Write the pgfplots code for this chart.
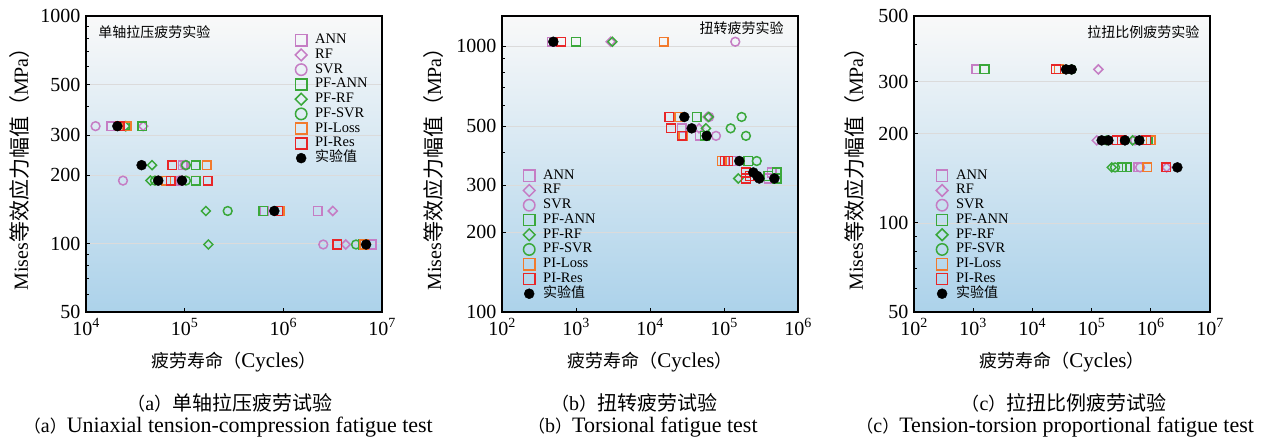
\documentclass[border=0pt]{standalone}
\usepackage{pgfplots}
\pgfplotsset{compat=1.18}
\usepackage{fontspec}
\setmainfont{Liberation Serif}
\newfontfamily\cjk{Noto Sans CJK SC}
\definecolor{cANN}{RGB}{197,125,196}
\definecolor{cPF}{RGB}{58,168,58}
\definecolor{cLoss}{RGB}{242,122,44}
\definecolor{cRes}{RGB}{232,38,40}
\definecolor{bgTop}{RGB}{249,249,249}
\definecolor{bgBot}{RGB}{172,210,234}
\newcommand{\fs}[1]{\fontsize{#1}{#1}\selectfont}
% caption helpers: full-width brackets set in the CJK face
\newcommand{\zhcap}[2]{{\cjk\fs{18}（}{\fs{20}#1}{\cjk\fs{18}）}{\cjk\fs{20}#2}}
\newcommand{\encap}[2]{{\cjk\fs{17}（}{\fs{20}#1}{\cjk\fs{17}）}{\fs{22}#2}}

\pgfplotsset{
  sq/.style={only marks, mark=square, mark size=4.3pt, mark options={mark size=4.3pt, line width=1.5pt, fill=none, solid}},
  dm/.style={only marks, mark=square, mark size=3.2pt, mark options={mark size=3.2pt, rotate=45, line width=1.5pt, fill=none, solid}},
  ci/.style={only marks, mark=o, mark size=4.4pt, mark options={mark size=4.4pt, line width=1.5pt, fill=none, solid}},
  ann/.style={sq, color=cANN},
  rf/.style={dm, color=cANN},
  svr/.style={ci, color=cANN},
  pfann/.style={sq, color=cPF},
  pfrf/.style={dm, color=cPF},
  pfsvr/.style={ci, color=cPF},
  piloss/.style={sq, color=cLoss},
  pires/.style={sq, color=cRes},
  expv/.style={only marks, mark=*, mark size=5pt, mark options={mark size=5pt}, color=black,
    legend image post style={every mark/.append style={scale=0.77}}},
  fatigue panel/.style={
    scale only axis, width=296pt, height=296pt,
    axis background/.style={top color=bgTop, bottom color=bgBot},
    axis line style={line width=1.2pt},
    tick align=inside, xtick pos=bottom, ytick pos=left,
    major tick length=4pt, minor tick length=2.5pt,
    tick style={line width=0.8pt, black},
    xminorticks=false,
    ymajorgrids, major grid style={line width=0.6pt, gray!28},
    ticklabel style={font=\fs{20}},
    xticklabel style={yshift=-3pt},
    yticklabel style={xshift=-2pt},
    clip=false,
    legend cell align=left,
    legend image code/.code={%
      \pgfpathrectangle{\pgfpoint{0pt}{-6pt}}{\pgfpoint{20pt}{12pt}}%
      \pgfusepath{use as bounding box}%
      \draw[every mark/.append style={scale=1.3}, ##1] plot coordinates {(6pt,0pt)};},
    legend style={draw=none, fill=none, inner sep=0pt, row sep=1.75pt, font=\fs{14.5},
      nodes={inner sep=0pt, text height=10pt, text depth=3pt}, anchor=north west},
    xlabel={{\cjk\fs{18}疲劳寿命（}{\fs{21}Cycles}{\cjk\fs{18}）}},
    xlabel style={at={(axis description cs:0.5,-0.169)}, anchor=center},
    ylabel={{\fs{20}Mises}{\cjk\fs{21}等效应力幅值（}{\fs{20}MPa}{\cjk\fs{21}）}},
  },
}

\begin{document}
\begin{tikzpicture}
\useasboundingbox (0,0) rectangle (1269pt,442pt);

% ---------------- (a) uniaxial tension-compression ----------------
\begin{loglogaxis}[fatigue panel, at={(86pt,130pt)}, anchor=south west,
  xmin=1e4, xmax=1e7, ymin=50, ymax=1000,
  xtick={1e4,1e5,1e6,1e7},
  xticklabels={10\textsuperscript{4},10\textsuperscript{5},10\textsuperscript{6},10\textsuperscript{7}},
  ytick={50,100,200,300,500,1000}, yticklabels={50,100,200,300,500,1000},
  minor ytick={60,70,80,90,400,600,700,800,900},
  ylabel style={at={(axis description cs:-0.223,0.5)}, anchor=center},
  legend style={at={(axis description cs:0.706,0.941)}},
]
\addplot[ann] coordinates {(1.8e4,328) (9.6e4,221) (8.7e4,189) (6.4e5,139) (2.23e6,139) (7.9e6,99)};
\addplot[rf] coordinates {(3.8e4,328) (1.02e5,221) (9.0e4,189) (3.17e6,139) (4.29e6,99)};
\addplot[svr] coordinates {(1.25e4,328) (1.0e5,221) (2.37e4,189) (8.8e4,189) (2.54e6,99)};
\addplot[pfann] coordinates {(3.73e4,328) (1.30e5,221) (1.30e5,189) (6.27e5,139) (6.45e6,99)};
\addplot[pfrf] coordinates {(2.5e4,328) (4.67e4,221) (4.5e4,189) (1.64e5,139) (1.74e5,99)};
\addplot[pfsvr] coordinates {(2.55e4,328) (1.03e5,221) (5.0e4,189) (1.03e5,189) (2.73e5,139) (5.45e6,99)};
\addplot[piloss] coordinates {(2.6e4,328) (1.68e5,221) (6.5e4,189) (9.2e5,139) (6.6e6,99)};
\addplot[pires] coordinates {(2.2e4,328) (7.5e4,221) (7.2e4,189) (1.72e5,189) (8.9e5,139) (3.52e6,99)};
\addplot[expv] coordinates {(2.08e4,328) (3.66e4,221) (5.4e4,189) (9.4e4,189) (8.1e5,139) (6.9e6,99)};
\legend{ANN,RF,SVR,PF-ANN,PF-RF,PF-SVR,PI-Loss,PI-Res,{\cjk\fs{14}实验值}}
\node[anchor=west, font=\cjk\fs{14}] at (axis description cs:0.03,0.946) {单轴拉压疲劳实验};
\node at (axis description cs:0.486,-0.307) {\zhcap{a}{单轴拉压疲劳试验}};
\node at (axis description cs:0.481,-0.389) {\encap{a}{Uniaxial tension-compression fatigue test}};
\end{loglogaxis}

% ---------------- (b) torsion ----------------
\begin{loglogaxis}[fatigue panel, at={(502pt,130pt)}, anchor=south west,
  xmin=1e2, xmax=1e6, ymin=100, ymax=1300,
  xtick={1e2,1e3,1e4,1e5,1e6},
  xticklabels={10\textsuperscript{2},10\textsuperscript{3},10\textsuperscript{4},10\textsuperscript{5},10\textsuperscript{6}},
  ytick={100,200,300,500,1000}, yticklabels={100,200,300,500,1000},
  minor ytick={400,600,700,800,900},
  ylabel style={at={(axis description cs:-0.233,0.5)}, anchor=center},
  legend style={at={(axis description cs:0.071,0.483)}},
]
\addplot[ann] coordinates {(470,1040) (2.68e4,491) (4.74e4,460) (1.32e5,370) (4.4e5,335) (4.0e5,318)};
\addplot[rf] coordinates {(2950,1040) (6.0e4,542) (4.6e4,491)};
\addplot[svr] coordinates {(1.42e5,1040) (6.3e4,542) (7.8e4,460)};
\addplot[pfann] coordinates {(1000,1040) (4.27e4,542) (5.54e4,460) (2.13e5,370) (5.15e5,335) (3.98e5,325) (5.15e5,318)};
\addplot[pfrf] coordinates {(3100,1040) (6.2e4,542) (5.7e4,491) (1.56e5,318)};
\addplot[pfsvr] coordinates {(1.73e5,542) (1.23e5,491) (1.98e5,460) (2.77e5,370)};
\addplot[piloss] coordinates {(1.53e4,1040) (2.49e4,542) (2.8e4,460) (9.3e4,370)};
\addplot[pires] coordinates {(630,1040) (1.82e4,542) (1.92e4,491) (2.7e4,460) (1.03e5,370) (1.14e5,370) (1.98e5,335) (2.24e5,325) (1.98e5,318)};
\addplot[expv] coordinates {(494,1040) (2.91e4,542) (3.66e4,491) (5.83e4,460) (1.61e5,370) (2.49e5,335) (2.82e5,325) (3.0e5,318) (4.79e5,318)};
\legend{ANN,RF,SVR,PF-ANN,PF-RF,PF-SVR,PI-Loss,PI-Res,{\cjk\fs{14}实验值}}
\node[anchor=east, font=\cjk\fs{14}] at (axis description cs:0.963,0.959) {扭转疲劳实验};
\node at (axis description cs:0.446,-0.307) {\zhcap{b}{扭转疲劳试验}};
\node at (axis description cs:0.476,-0.389) {\encap{b}{Torsional fatigue test}};
\end{loglogaxis}

% ---------------- (c) tension-torsion proportional ----------------
\begin{loglogaxis}[fatigue panel, at={(914pt,130pt)}, anchor=south west,
  xmin=1e2, xmax=1e7, ymin=50, ymax=500,
  xtick={1e2,1e3,1e4,1e5,1e6,1e7},
  xticklabels={10\textsuperscript{2},10\textsuperscript{3},10\textsuperscript{4},10\textsuperscript{5},10\textsuperscript{6},10\textsuperscript{7}},
  ytick={50,100,200,300,500}, yticklabels={50,100,200,300,500},
  minor ytick={60,70,80,90,400},
  ylabel style={at={(axis description cs:-0.2,0.5)}, anchor=center},
  legend style={at={(axis description cs:0.074,0.483)}},
]
\addplot[ann] coordinates {(1.12e3,330) (8.6e5,190) (6.15e5,154)};
\addplot[rf] coordinates {(1.3e5,330) (1.22e5,190) (1.85e6,154)};
\addplot[svr] coordinates {(5.4e5,190) (6.6e5,154)};
\addplot[pfann] coordinates {(1.55e3,330) (8.8e5,190) (3.22e5,154) (3.91e5,154)};
\addplot[pfrf] coordinates {(4.94e5,190) (2.19e5,154)};
\addplot[pfsvr] coordinates {(4.6e4,330) (1.8e5,190) (2.49e5,154)};
\addplot[piloss] coordinates {(2.8e4,330) (9.95e5,190) (8.7e5,154)};
\addplot[pires] coordinates {(2.5e4,330) (2.66e5,190) (3.22e5,190) (8.3e5,190) (1.81e6,154)};
\addplot[expv] coordinates {(3.7e4,330) (4.6e4,330) (1.48e5,190) (1.92e5,190) (3.66e5,190) (6.4e5,190) (2.81e6,154)};
\legend{ANN,RF,SVR,PF-ANN,PF-RF,PF-SVR,PI-Loss,PI-Res,{\cjk\fs{14}实验值}}
\node[anchor=east, font=\cjk\fs{14}] at (axis description cs:0.976,0.946) {拉扭比例疲劳实验};
\node at (axis description cs:0.507,-0.307) {\zhcap{c}{拉扭比例疲劳试验}};
\node at (axis description cs:0.477,-0.389) {\encap{c}{Tension-torsion proportional fatigue test}};
\end{loglogaxis}
\end{tikzpicture}
\end{document}
